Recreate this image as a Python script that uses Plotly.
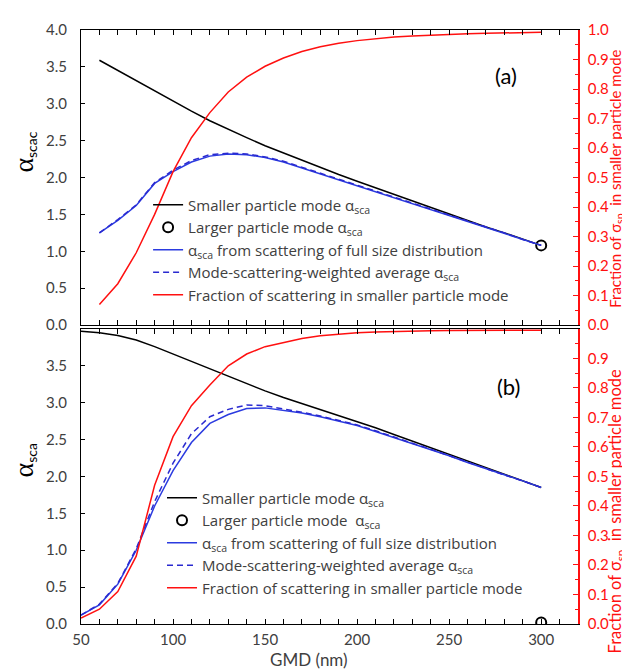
import plotly.graph_objects as go

# ---------------- data ----------------
gmd_a = [60, 70, 80, 90, 100, 110, 120, 130, 140, 150, 160, 170, 180, 190, 200,
         210, 220, 230, 240, 250, 260, 270, 280, 290, 300]
small_a = [3.59, 3.45, 3.31, 3.17, 3.03, 2.90, 2.77, 2.65, 2.54, 2.43, 2.33, 2.23, 2.13,
           2.04, 1.95, 1.86, 1.77, 1.68, 1.59, 1.51, 1.42, 1.33, 1.25, 1.16, 1.08]
full_a = [1.25, 1.42, 1.62, 1.92, 2.08, 2.21, 2.29, 2.32, 2.31, 2.27, 2.21, 2.13, 2.05,
          1.97, 1.89, 1.81, 1.73, 1.65, 1.57, 1.49, 1.41, 1.33, 1.25, 1.16, 1.08]
wavg_a = [1.25, 1.43, 1.63, 1.93, 2.10, 2.23, 2.31, 2.33, 2.32, 2.28, 2.22, 2.14, 2.06,
          1.98, 1.90, 1.81, 1.73, 1.65, 1.57, 1.49, 1.41, 1.33, 1.25, 1.16, 1.08]
frac_a = [0.07, 0.14, 0.245, 0.375, 0.52, 0.635, 0.72, 0.79, 0.84, 0.877, 0.905, 0.927,
          0.943, 0.955, 0.964, 0.971, 0.976, 0.980, 0.983, 0.985, 0.987, 0.989, 0.990,
          0.991, 0.992]
large_x_a = [300]
large_a = [1.08]

gmd_b = [50, 60, 70, 80, 90, 100, 110, 120, 130, 140, 150, 160, 170, 180, 190, 200,
         210, 220, 230, 240, 250, 260, 270, 280, 290, 300]
small_b = [3.97, 3.95, 3.91, 3.85, 3.76, 3.66, 3.56, 3.45, 3.35, 3.25, 3.16, 3.07, 2.99,
           2.91, 2.82, 2.74, 2.66, 2.57, 2.48, 2.39, 2.29, 2.20, 2.11, 2.03, 1.94, 1.85]
full_b = [0.12, 0.26, 0.54, 1.00, 1.60, 2.08, 2.46, 2.72, 2.84, 2.92, 2.93, 2.90, 2.86,
          2.81, 2.75, 2.69, 2.61, 2.53, 2.45, 2.37, 2.28, 2.19, 2.11, 2.02, 1.94, 1.85]
wavg_b = [0.12, 0.27, 0.55, 1.02, 1.66, 2.18, 2.58, 2.81, 2.91, 2.97, 2.96, 2.92, 2.87,
          2.82, 2.76, 2.70, 2.62, 2.53, 2.45, 2.37, 2.28, 2.19, 2.11, 2.02, 1.94, 1.85]
frac_b = [0.02, 0.05, 0.11, 0.23, 0.47, 0.635, 0.74, 0.81, 0.875, 0.915, 0.94, 0.955,
          0.968, 0.977, 0.983, 0.987, 0.990, 0.992, 0.993, 0.994, 0.995, 0.995, 0.996,
          0.996, 0.996, 0.996]
large_x_b = [300]
large_b = [0.02]

x_ticks = [50, 100, 150, 200, 250, 300]
y_ticks_a = [0.0, 0.5, 1.0, 1.5, 2.0, 2.5, 3.0, 3.5, 4.0]
y_ticks_b = [0.0, 0.5, 1.0, 1.5, 2.0, 2.5, 3.0, 3.5]
frac_ticks = [0.0, 0.1, 0.2, 0.3, 0.4, 0.5, 0.6, 0.7, 0.8, 0.9, 1.0]
frac_ticks_b = [0.0, 0.1, 0.2, 0.3, 0.4, 0.5, 0.6, 0.7, 0.8, 0.9]

# ---------------- styles ----------------
FONT = "Lato"
LFONT = "Open Sans"
TXT = "#404040"
BLUE = "#2B3BE0"
BLUE_D = "#2A2AD0"
RED = "#FF1010"
A = "α<sub>sca</sub>"

fig = go.Figure()


def add_panel(xa, ya, y2, legend, gx, small, full, wavg, frac, lx, ly, larger_name):
    fig.add_trace(go.Scatter(x=gx, y=small, mode="lines", name="Smaller particle mode " + A,
                             line=dict(color="black", width=1.5), xaxis=xa, yaxis=ya,
                             legend=legend))
    fig.add_trace(go.Scatter(x=lx, y=ly, mode="markers", name=larger_name,
                             marker=dict(symbol="circle-open", size=10, color="black",
                                         line=dict(width=2, color="black")),
                             xaxis=xa, yaxis=ya, legend=legend))
    fig.add_trace(go.Scatter(x=gx, y=full, mode="lines",
                             name=A + " from scattering of full size distribution",
                             line=dict(color=BLUE, width=1.5), xaxis=xa, yaxis=ya,
                             legend=legend))
    fig.add_trace(go.Scatter(x=gx, y=wavg, mode="lines",
                             name="Mode-scattering-weighted average " + A,
                             line=dict(color=BLUE_D, width=1.5, dash="6px,4px"), xaxis=xa,
                             yaxis=ya, legend=legend))
    fig.add_trace(go.Scatter(x=gx, y=frac, mode="lines",
                             name="Fraction of scattering in smaller particle mode",
                             line=dict(color=RED, width=1.5), xaxis=xa, yaxis=y2,
                             legend=legend))


add_panel("x", "y", "y2", "legend", gmd_a, small_a, full_a, wavg_a, frac_a,
          large_x_a, large_a, "Larger particle mode " + A)
add_panel("x2", "y3", "y4", "legend2", gmd_b, small_b, full_b, wavg_b, frac_b,
          large_x_b, large_b, "Larger particle mode  " + A)

top_dom = [0.5033, 1.0]
bot_dom = [0.0, 0.4967]

xcommon = dict(range=[50, 320], tickvals=x_ticks, showline=True, linecolor="black",
               linewidth=1, mirror="allticks", ticks="inside", ticklen=5,
               tickcolor="black", showgrid=False, zeroline=False,
               minor=dict(dtick=10, tick0=50, ticks="inside", ticklen=4,
                          tickcolor="black", showgrid=False),
               tickfont=dict(family=FONT, size=15, color=TXT))
ycommon = dict(range=[0, 4.0], showline=True, linecolor="black", linewidth=1,
               ticks="inside", ticklen=4, tickcolor="black", showgrid=False,
               zeroline=False, tickformat=".1f", ticklabelstandoff=10,
               tickfont=dict(family=FONT, size=15, color=TXT))
y2common = dict(range=[0, 1.0], showline=True, linecolor=RED, linewidth=1.5,
                side="right", ticks="inside", ticklen=5, tickcolor=RED,
                showgrid=False, zeroline=False, tickformat=".1f",
                ticklabelstandoff=5,
                minor=dict(dtick=0.05, ticks="inside", ticklen=3, tickcolor=RED,
                           showgrid=False),
                tickfont=dict(family=FONT, size=15, color=RED))

fig.update_layout(
    width=630, height=670,
    margin=dict(l=73, r=60, t=16, b=54),
    plot_bgcolor="white", paper_bgcolor="white",
    font=dict(family=FONT, color=TXT),
    xaxis=dict(xcommon, domain=[0, 1], anchor="y", showticklabels=False),
    yaxis=dict(ycommon, domain=top_dom, anchor="x", tickvals=y_ticks_a),
    yaxis2=dict(y2common, domain=top_dom, anchor="x", overlaying="y",
                tickvals=frac_ticks),
    xaxis2=dict(xcommon, domain=[0, 1], anchor="y3", ticklabelstandoff=2),
    yaxis3=dict(ycommon, domain=bot_dom, anchor="x2", tickvals=y_ticks_b),
    yaxis4=dict(y2common, domain=bot_dom, anchor="x2", overlaying="y3",
                tickvals=frac_ticks_b),
    legend=dict(x=0.135, y=0.733, xanchor="left", yanchor="top", bgcolor="rgba(0,0,0,0)",
                font=dict(family=LFONT, size=15, color=TXT), itemwidth=30,
                tracegroupgap=0),
    legend2=dict(x=0.163, y=0.240, xanchor="left", yanchor="top",
                 bgcolor="rgba(0,0,0,0)",
                 font=dict(family=LFONT, size=15, color=TXT), itemwidth=30,
                 tracegroupgap=0),
    showlegend=True,
)

ALPHA = '<span style="font-size:28px;font-family:Liberation Serif">α</span>'
ann = [
    dict(text="(a)", x=281, y=3.38, xref="x", yref="y", showarrow=False,
         font=dict(family=FONT, size=22, color="black")),
    dict(text="(b)", x=282, y=3.22, xref="x2", yref="y3", showarrow=False,
         font=dict(family=FONT, size=22, color="black")),
    dict(text=ALPHA + "<sub>scac</sub>", x=-0.115, y=0.795, xref="paper", yref="paper",
         textangle=-90, showarrow=False, xanchor="center", yanchor="middle",
         font=dict(family=FONT, size=20, color="black")),
    dict(text=ALPHA + "<sub>sca</sub>", x=-0.115, y=0.275, xref="paper", yref="paper",
         textangle=-90, showarrow=False, xanchor="center", yanchor="middle",
         font=dict(family=FONT, size=20, color="black")),
    dict(text="Fraction of σ<sub>sp</sub>  in smaller particle mode", x=1.075, y=0.75,
         xref="paper", yref="paper", textangle=-90, showarrow=False,
         xanchor="center", yanchor="middle", font=dict(family=FONT, size=15, color=RED)),
    dict(text="Fraction of σ<sub>sp</sub>  in smaller particle mode", x=1.075,
         y=0.19, xref="paper", yref="paper", textangle=-90, showarrow=False,
         xanchor="center", yanchor="middle", font=dict(family=FONT, size=16.5, color=RED)),
    dict(text="GMD (nm)", x=0.459, y=-0.06, xref="paper", yref="paper",
         showarrow=False, xanchor="center", yanchor="middle",
         font=dict(family=FONT, size=17, color=TXT)),
]
fig.update_layout(annotations=ann)

fig.write_html("out.html")
